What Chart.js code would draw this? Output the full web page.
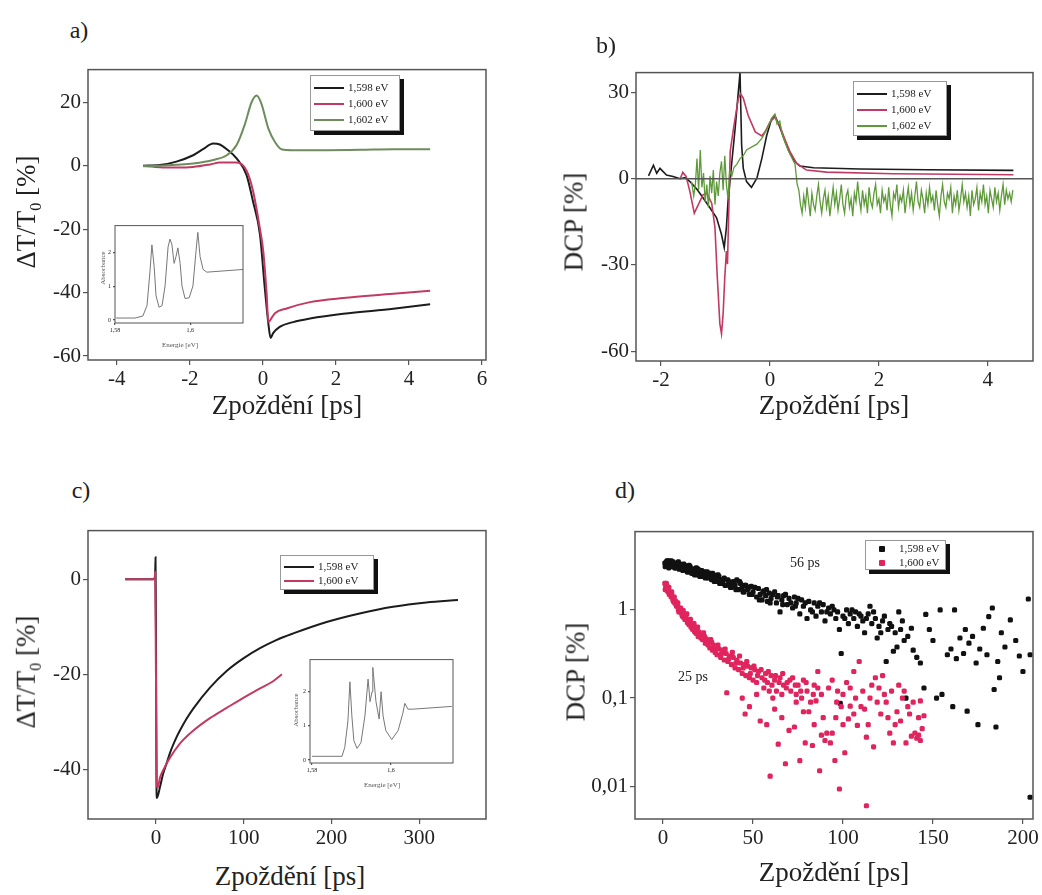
<!DOCTYPE html>
<html lang="cs">
<head>
<meta charset="UTF-8">
<title>Zpoždění - DCP</title>
<script src="https://cdn.jsdelivr.net/npm/chart.js"></script>
<style>
  body { margin: 0; background: #fff; font-family: 'Liberation Serif', 'Times New Roman', serif; color: #222; }
  #page { position: relative; width: 1042px; height: 895px; overflow: hidden; background: #fff; }
  canvas { position: absolute; }
  .txt { position: absolute; transform: translate(-50%, -50%); white-space: nowrap; }
  .ytitle { transform: translate(-50%, -50%) rotate(-90deg); }
  .title { font-size: 27px; }
  .tag { font-size: 24px; }
  .small { font-size: 7px; color: #555; }
  .note { font-size: 14px; }
  .legend { position: absolute; background: #fff; border: 1px solid #999; box-shadow: 4px 4px 0 #111; font-size: 11px; }
  .legend .row { position: absolute; left: 3px; height: 14px; line-height: 14px; white-space: nowrap; }
  .legend .ln { display: inline-block; width: 30px; height: 0; border-top: 2px solid; vertical-align: middle; margin-right: 4px; }
  .legend .pt { display: inline-block; width: 6px; height: 6px; border-radius: 1px; vertical-align: middle; margin: 0 14px 0 10px; }
</style>
</head>
<body>
<div id="page">
  <canvas id="chartA"></canvas>
  <canvas id="chartB"></canvas>
  <canvas id="chartC"></canvas>
  <canvas id="chartD"></canvas>
  <canvas id="insetA"></canvas>
  <canvas id="insetC"></canvas>

  <div class="txt tag" style="left:79px;top:30px">a)</div>
  <div class="txt tag" style="left:606px;top:45px">b)</div>
  <div class="txt tag" style="left:81px;top:490px">c)</div>
  <div class="txt tag" style="left:625px;top:490px">d)</div>

  <div class="txt title ytitle" style="left:28px;top:212px">ΔT/T<sub style="font-size:16px">0</sub> [%]</div>
  <div class="txt title" style="left:287px;top:405px">Zpoždění [ps]</div>
  <div class="txt title ytitle" style="left:574px;top:222px">DCP [%]</div>
  <div class="txt title" style="left:834px;top:405px">Zpoždění [ps]</div>
  <div class="txt title ytitle" style="left:28px;top:672px">ΔT/T<sub style="font-size:16px">0</sub> [%]</div>
  <div class="txt title" style="left:290px;top:876px">Zpoždění [ps]</div>
  <div class="txt title ytitle" style="left:576px;top:672px">DCP [%]</div>
  <div class="txt title" style="left:834px;top:872px">Zpoždění [ps]</div>

  <div class="txt small ytitle" style="left:103px;top:268px">Absorbance</div>
  <div class="txt small" style="left:180px;top:345px">Energie [eV]</div>
  <div class="txt small ytitle" style="left:296px;top:710px">Absorbance</div>
  <div class="txt small" style="left:382px;top:785px">Energie [eV]</div>

  <div class="txt note" style="left:805px;top:563px">56 ps</div>
  <div class="txt note" style="left:693px;top:677px">25 ps</div>

  <div class="legend" style="left:310px;top:75px;width:88px;height:54px">
    <div class="row" style="top:4px"><span class="ln" style="border-color:#1c1c1c"></span>1,598 eV</div>
    <div class="row" style="top:20px"><span class="ln" style="border-color:#c23a62"></span>1,600 eV</div>
    <div class="row" style="top:36px"><span class="ln" style="border-color:#6f8c5e"></span>1,602 eV</div>
  </div>
  <div class="legend" style="left:853px;top:81px;width:92px;height:53px">
    <div class="row" style="top:4px"><span class="ln" style="border-color:#1c1c1c"></span>1,598 eV</div>
    <div class="row" style="top:20px"><span class="ln" style="border-color:#c23a62"></span>1,600 eV</div>
    <div class="row" style="top:36px"><span class="ln" style="border-color:#5f9a3a"></span>1,602 eV</div>
  </div>
  <div class="legend" style="left:280px;top:555px;width:92px;height:33px">
    <div class="row" style="top:3px"><span class="ln" style="border-color:#1c1c1c"></span>1,598 eV</div>
    <div class="row" style="top:17px"><span class="ln" style="border-color:#c23a62"></span>1,600 eV</div>
  </div>
  <div class="legend" style="left:865px;top:540px;width:79px;height:28px">
    <div class="row" style="top:0px"><span class="pt" style="background:#111"></span>1,598 eV</div>
    <div class="row" style="top:14px"><span class="pt" style="background:#e0245e"></span>1,600 eV</div>
  </div>
</div>

<script>
  // ---- data: panel a (ΔT/T0 vs delay) ----
  const aBlackX = [-3.28, -2.82, -2.37, -1.91, -1.64, -1.36, -1.18, -0.99, -0.72, -0.45, -0.27, -0.08, 0.05, 0.15, 0.21, 0.28, 0.46, 0.83, 1.29, 2.2, 3.57, 4.58];
  const aBlack = [0, 0.2, 1.3, 3.3, 5.2, 7.0, 6.7, 5.2, 2.3, -2.9, -11.3, -21.7, -38.3, -49.8, -54.3, -52.8, -50.8, -49.3, -48.2, -46.7, -45.1, -43.7];
  const aRedX = [-3.28, -2.82, -2.37, -1.91, -1.45, -1.18, -0.72, -0.45, -0.27, -0.08, 0.01, 0.10, 0.15, 0.21, 0.33, 0.65, 1.29, 2.2, 3.57, 4.58];
  const aRed = [0, -0.5, -0.6, -0.4, 0.4, 1.0, 1.0, -1.5, -8, -20, -27, -40, -49.3, -48.5, -46.5, -45, -43, -41.7, -40.4, -39.4];
  const aGreenX = [-3.28, -2.82, -2.37, -1.91, -1.36, -0.99, -0.72, -0.49, -0.31, -0.17, -0.04, 0.15, 0.33, 0.51, 0.83, 1.75, 2.66, 3.57, 4.58];
  const aGreen = [-0.2, 0, 0.3, 0.7, 1.8, 3.3, 6.5, 13.2, 20, 22.1, 19.5, 11.7, 7.5, 5.2, 4.9, 4.9, 5.0, 5.2, 5.2];
  const aXTicks = [-4, -2, 0, 2, 4, 6];
  const aYTicks = [-60, -40, -20, 0, 20];

  // inset a: absorbance spectrum
  const insAX = [1.5803, 1.5853, 1.5874, 1.5885, 1.5893, 1.5898, 1.5904, 1.5909, 1.5917, 1.5925, 1.5933, 1.5941, 1.5946, 1.5951, 1.5957, 1.5962, 1.5967, 1.5973, 1.5978, 1.5986, 1.5997, 1.6007, 1.6015, 1.6020, 1.6026, 1.6034, 1.6044, 1.614];
  const insAY = [0.06, 0.06, 0.12, 0.43, 1.45, 2.23, 1.59, 0.72, 0.38, 0.43, 1.01, 2.17, 2.4, 2.25, 1.68, 1.88, 2.14, 1.68, 1.01, 0.64, 0.66, 1.01, 2.02, 2.6, 1.88, 1.5, 1.42, 1.5];

  // ---- data: panel b (DCP vs delay) ----
  const bBlackX = [-2.23, -2.14, -2.08, -2.02, -1.90, -1.78, -1.65, -1.56, -1.47, -1.34, -1.23, -1.10, -0.98, -0.89, -0.84, -0.80, -0.77, -0.70, -0.64, -0.55, -0.52, -0.49, -0.43, -0.34, -0.24, -0.15, -0.06, 0.03, 0.09, 0.18, 0.28, 0.37, 0.46, 0.55, 0.80, 1.65, 2.88, 4.47];
  const bBlack = [1.0, 4.7, 1.9, 3.6, 1.3, 0.8, 0, 0.4, -1, -3.7, -6.6, -10.2, -13.6, -19.4, -24, -17, -7.9, 5.9, 17.4, 36.9, 11.6, 3.6, -1, -3, 0.2, 7, 15, 20.8, 22, 18, 12.8, 8.7, 5.9, 4.4, 3.8, 3.4, 3.1, 2.9];
  const bRedX = [-1.65, -1.60, -1.54, -1.47, -1.39, -1.32, -1.23, -1.16, -1.07, -1.01, -0.97, -0.92, -0.89, -0.86, -0.83, -0.80, -0.78, -0.73, -0.67, -0.58, -0.54, -0.49, -0.40, -0.27, -0.15, -0.09, 0.00, 0.09, 0.18, 0.28, 0.37, 0.49, 0.67, 1.04, 2.26, 4.47];
  const bRed = [0, 2.2, 0.8, -4.5, -12, -9.2, -5.6, -5.1, -8.5, -17, -33.2, -50.5, -53.9, -47, -34.4, -25.2, -29.7, 9.5, 17.4, 28, 29.5, 28, 22, 16.3, 14.9, 16.3, 19.7, 21.4, 18.5, 13.4, 9.3, 5.3, 3.0, 2.3, 1.7, 1.4];
  const bGreenX = [
    -1.44, -1.40, -1.37, -1.34, -1.31, -1.28, -1.25, -1.22, -1.19, -1.16,
    -1.13, -1.10, -1.07, -1.04, -1.01, -0.98, -0.95, -0.92, -0.89, -0.86,
    -0.83, -0.80, -0.77, -0.74, -0.70, -0.66, -0.61, -0.55, -0.49, -0.43,
    -0.34, -0.24, -0.15, -0.06, 0.03, 0.09, 0.13, 0.18, 0.23, 0.28,
    0.33, 0.37, 0.42, 0.46, 0.50,
    0.53, 0.56, 0.59, 0.62, 0.65, 0.68, 0.71, 0.74, 0.77, 0.80,
    0.83, 0.86, 0.89, 0.92, 0.95, 0.98, 1.01, 1.04, 1.07, 1.10,
    1.13, 1.16, 1.19, 1.22, 1.25, 1.28, 1.31, 1.34, 1.37, 1.40,
    1.43, 1.46, 1.49, 1.52, 1.55, 1.58, 1.61, 1.64, 1.67, 1.70,
    1.73, 1.76, 1.79, 1.82, 1.85, 1.88, 1.91, 1.94, 1.97, 2.00,
    2.03, 2.06, 2.09, 2.12, 2.15, 2.18, 2.21, 2.24, 2.27, 2.30,
    2.33, 2.36, 2.39, 2.42, 2.45, 2.48, 2.51, 2.54, 2.57, 2.60,
    2.63, 2.66, 2.69, 2.72, 2.75, 2.78, 2.81, 2.84, 2.87, 2.90,
    2.93, 2.96, 2.99, 3.02, 3.05, 3.08, 3.11, 3.14, 3.17, 3.20,
    3.23, 3.26, 3.29, 3.32, 3.35, 3.38, 3.41, 3.44, 3.47, 3.50,
    3.53, 3.56, 3.59, 3.62, 3.65, 3.68, 3.71, 3.74, 3.77, 3.80,
    3.83, 3.86, 3.89, 3.92, 3.95, 3.98, 4.01, 4.04, 4.07, 4.10,
    4.13, 4.16, 4.19, 4.22, 4.25, 4.28, 4.31, 4.34, 4.37, 4.40,
    4.43, 4.46
  ];
  const bGreen = [
    -1, -6, -2, 7, -4, 10, -3, 2, -8, -2,
    -10, 1, -5, 3, -9, -1, -6, 2, 6, -4,
    8, -2, -7, 3, 1, 4, 5, 7, 8, 10,
    11, 12, 14, 17, 21, 22.5, 19, 20, 15, 12.5,
    10, 8.5, 6.5, 5, -2,
    -4, -9, -12, -6, -10, -3, -8, -13, -5, -9,
    -11, -6, -2, -8, -12, -7, -4, -10, -6, -13,
    -8, -3, -9, -5, -11, -7, -2, -9, -12, -6,
    -4, -10, -7, -13, -5, -8, -1, -7, -11, -4,
    -9, -6, -12, -3, -8, -10, -5, -2, -9, -7,
    -12, -4, -8, -6, -11, -3, -9, -13, -5, -7,
    -2, -10, -6, -8, -4, -12, -7, -3, -9, -5,
    -11, -6, -1, -8, -10, -4, -7, -12, -5, -9,
    -3, -8, -6, -11, -4, -9, -13, -6, -2, -8,
    -10, -5, -7, -3, -12, -6, -9, -4, -11, -7,
    -2, -8, -5, -10, -6, -13, -4, -9, -7, -3,
    -11, -5, -8, -2, -9, -6, -12, -4, -7, -10,
    -3, -8, -5, -11, -6, -2, -9, -4, -7, -5,
    -8, -4
  ];
  const bZeroX = [-2.46, 4.83];
  const bZero = [0, 0];
  const bXTicks = [-2, 0, 2, 4];
  const bYTicks = [-60, -30, 0, 30];

  // ---- data: panel c (ΔT/T0, long delay) ----
  const cBlackX = [-35, -3, -1, -0.5, 0, 0.5, 1, 4.6, 8, 12.5, 16, 24, 27.3, 35, 42.5, 61.5, 80.5, 100, 118.5, 137, 156.4, 194.4, 232, 270, 308, 344];
  const cBlack = [0, 0, 0.5, 4.6, -10, -40, -46, -43.7, -41, -38.5, -36.5, -33, -31.8, -29.3, -27.2, -22.8, -19.3, -16.6, -14.5, -12.8, -11.4, -9.0, -7.2, -5.8, -4.9, -4.4];
  const cRedX = [-35, -3, -1.5, -1, 0, 1, 2, 4.6, 10, 16, 27, 42, 61.5, 81, 99, 118, 133, 143.5];
  const cRed = [0, 0, 0, 1.5, -20, -43.5, -43.8, -41.7, -39.5, -37.5, -34.6, -31.9, -29.2, -27, -25, -23, -21.5, -20];
  const cXTicks = [0, 100, 200, 300];
  const cYTicks = [-40, -20, 0];

  // inset c
  const insCX = [1.5800, 1.5876, 1.5883, 1.5891, 1.5896, 1.5901, 1.5906, 1.5914, 1.5924, 1.5934, 1.5942, 1.5947, 1.5952, 1.5954, 1.5962, 1.5970, 1.5975, 1.5980, 1.5987, 1.6002, 1.6018, 1.6030, 1.6035, 1.6043, 1.6056, 1.6154];
  const insCY = [0.11, 0.11, 0.37, 1.14, 2.29, 1.29, 0.57, 0.34, 0.51, 1.29, 2.37, 1.71, 2.0, 2.71, 1.71, 1.2, 2.0, 1.29, 0.86, 0.6, 0.86, 1.37, 1.66, 1.49, 1.49, 1.57];

  // ---- data: panel d (DCP decay, log) ----
  const dBlackX = [
    1, 1.5, 2, 2.5, 3, 3.5, 4, 5, 5.5, 6,
    7, 7.5, 8, 9, 9.5, 10, 11, 12, 12.5, 13,
    14, 15, 15.5, 16, 17, 18, 18.5, 19, 20, 21,
    22, 23, 24, 25, 26, 27, 28, 29, 30, 31,
    32, 33, 34, 35, 36, 37, 38, 39, 40, 41,
    42, 43, 44, 45, 46, 47, 48, 49, 50, 52,
    53, 54, 55, 56, 57, 58, 59, 60, 62, 63,
    64, 65, 66, 68, 69, 70, 72, 73, 74, 76,
    77, 78, 80, 81, 82, 84, 85, 86, 88, 89,
    90, 92, 93, 94, 96, 97, 98, 99, 100, 102,
    103, 104, 106, 107, 108, 110, 111, 112, 114, 115,
    116, 118, 119, 120, 122, 124, 125, 126, 128, 129,
    130, 131, 132, 134, 135, 136, 138, 139, 141, 143,
    145, 146, 148, 150, 152, 154, 155, 158, 160, 161,
    162, 163, 165, 167, 168, 169, 170, 172, 174, 175,
    176, 178, 180, 181, 183, 184, 185, 186, 187, 188,
    190, 193, 196, 198, 200, 203, 204, 204, 98.5
  ];
  const dBlack = [
    3.4, 3.2, 3.5, 3.3, 3.6, 3.2, 3.4, 3.1, 3.5, 3.3,
    3.0, 3.4, 3.2, 2.9, 3.3, 3.1, 2.8, 3.2, 2.9, 3.0,
    2.7, 3.1, 2.8, 2.6, 2.9, 2.7, 3.0, 2.5, 2.8, 2.6,
    2.4, 2.7, 2.5, 2.3, 2.6, 2.2, 2.5, 2.3, 2.1, 2.4,
    2.2, 2.0, 2.3, 1.9, 2.2, 2.0, 1.8, 2.1, 1.9, 2.2,
    1.7, 2.0, 1.8, 1.6, 1.9, 1.7, 1.5, 1.85, 1.6, 1.4,
    1.75, 1.5, 1.3, 1.65, 1.45, 1.25, 1.55, 1.35, 1.6, 1.2,
    1.45, 0.95, 1.3, 1.5, 1.15, 1.35, 1.05, 1.4, 1.2, 0.9,
    1.3, 1.1, 0.8, 1.25, 1.0, 1.2, 0.85, 1.1, 0.95, 1.15,
    0.75, 1.05, 0.9, 1.1, 0.8, 0.95, 0.6, 0.32, 0.85, 1.0,
    0.7, 0.9, 0.8, 0.95, 0.65, 0.85, 0.75, 0.55, 0.9, 1.1,
    0.7, 0.8, 0.48, 0.65, 0.75, 0.26, 0.6, 0.7, 0.34, 0.55,
    0.38, 0.95, 0.6, 0.45, 0.1, 0.5, 0.62, 0.35, 0.29, 0.25,
    0.13, 0.89, 0.6, 0.45, 0.1, 1.0, 0.11, 0.31, 0.36, 0.08,
    1.0, 0.28, 0.48, 0.32, 0.6, 0.071, 0.42, 0.5, 0.25, 0.05,
    0.36, 0.62, 0.31, 0.84, 1.05, 0.125, 0.047, 0.26, 0.17, 0.55,
    0.38, 0.77, 0.45, 0.3, 0.2, 1.33, 0.0075, 0.31, 0.087
  ];
  const dBlackX2 = [
    1.2, 2.2, 3.2, 4.5, 6.5, 8.5, 10.5, 11.5, 13.5, 14.5,
    16.5, 17.5, 19.5, 20.5, 21.5, 22.5, 23.5, 24.5, 26.5, 27.5,
    28.5, 30.5, 31.5, 33.5, 34.5, 36.5, 37.5, 39.5, 40.5, 42.5,
    44.5, 45.5, 47.5, 49.5, 51, 53.5, 55.5, 57.5, 59.5, 61,
    63.5, 66.5, 67, 71, 73.5, 75, 79, 83, 87, 91,
    95, 101, 105, 109, 113, 117, 121, 123, 127, 133
  ];
  const dBlack2 = [
    3.1, 3.6, 3.0, 3.6, 3.0, 3.5, 2.9, 3.3, 2.7, 3.2,
    2.9, 2.5, 2.9, 2.4, 2.8, 2.6, 2.3, 2.7, 2.3, 2.6,
    2.1, 2.5, 2.0, 2.2, 1.9, 2.1, 1.8, 2.0, 1.7, 2.1,
    1.6, 1.9, 1.8, 1.5, 1.8, 1.3, 1.6, 1.7, 1.2, 1.5,
    1.4, 1.15, 1.45, 1.2, 1.1, 1.35, 1.2, 0.95, 1.2, 0.95,
    1.0, 0.8, 1.0, 0.9, 0.8, 0.95, 0.55, 0.85, 0.65, 0.75
  ];
  const dRedX = [
    1, 1.5, 2, 2.5, 3, 3.5, 4, 4.5, 5, 5.5,
    6, 6.5, 7, 7.5, 8, 8.5, 9, 9.5, 10, 10.5,
    11, 11.5, 12, 12.5, 13, 13.5, 14, 14.5, 15, 15.5,
    16, 16.5, 17, 17.5, 18, 18.5, 19, 19.5, 20, 21,
    21.5, 22, 23, 23.5, 24, 25, 25.5, 26, 27, 27.5,
    28, 29, 29.5, 30, 31, 32, 33, 34, 35, 35.4,
    36, 37, 38, 39, 40, 41, 42, 43, 44, 45,
    45.6, 46, 47, 48, 49, 50, 51, 52, 53, 54,
    55, 56, 57, 57.6, 58, 59, 59.5, 60, 61, 62,
    63, 64, 65, 66, 67, 68, 69, 70, 71, 72,
    73, 74, 75, 76, 77, 78, 79, 80, 82, 83,
    84, 85, 86, 87, 88, 90, 91, 92, 93, 94,
    95.5, 96, 97, 98, 99, 100, 102, 104, 104, 106,
    106, 108, 109, 110, 111, 113, 113, 115, 116, 118,
    120, 121, 122, 124, 126, 127, 128, 130, 131, 132,
    134, 135, 136, 137, 138, 140, 141, 142, 143, 143,
    144, 145
  ];
  const dRed = [
    2.0, 1.8, 1.9, 1.65, 1.7, 1.5, 1.55, 1.4, 1.45, 1.3,
    1.35, 1.2, 1.25, 1.1, 1.15, 1.0, 1.05, 0.95, 0.98, 0.88,
    0.92, 0.82, 0.86, 0.78, 0.8, 0.72, 0.76, 0.68, 0.72, 0.64,
    0.68, 0.6, 0.65, 0.57, 0.62, 0.54, 0.58, 0.5, 0.56, 0.48,
    0.53, 0.46, 0.5, 0.42, 0.47, 0.4, 0.45, 0.37, 0.43, 0.35,
    0.4, 0.33, 0.38, 0.31, 0.36, 0.29, 0.35, 0.27, 0.32, 0.115,
    0.26, 0.3, 0.24, 0.29, 0.22, 0.27, 0.21, 0.25, 0.19, 0.24,
    0.066, 0.18, 0.23, 0.17, 0.22, 0.16, 0.21, 0.15, 0.2, 0.055,
    0.17, 0.13, 0.19, 0.05, 0.15, 0.12, 0.013, 0.18, 0.1, 0.16,
    0.12, 0.03, 0.17, 0.11, 0.14, 0.018, 0.15, 0.043, 0.12, 0.17,
    0.047, 0.11, 0.14, 0.0195, 0.1, 0.16, 0.031, 0.12, 0.09, 0.029,
    0.14, 0.093, 0.2, 0.015, 0.11, 0.033, 0.04, 0.13, 0.031, 0.16,
    0.0196, 0.06, 0.12, 0.0093, 0.08, 0.11, 0.15, 0.081, 0.13, 0.066,
    0.2, 0.049, 0.26, 0.08, 0.12, 0.006, 0.036, 0.1, 0.14, 0.17,
    0.13, 0.066, 0.18, 0.09, 0.04, 0.12, 0.031, 0.07, 0.14, 0.055,
    0.12, 0.031, 0.08, 0.066, 0.037, 0.04, 0.035, 0.038, 0.093, 0.033,
    0.045, 0.063
  ];
  const dRedX2 = [
    1.2, 1.8, 2.8, 3.2, 4.2, 4.8, 5.8, 6.2, 7.2, 8.2,
    8.8, 9.8, 10.8, 11.2, 12.2, 13.2, 14.2, 15.2, 16.2, 17.2,
    18.2, 19.2, 20.5, 22.5, 24.5, 26.5, 28.5, 30.5, 32.5, 34.5,
    36.5, 38.5, 40.5, 42.5, 44.5, 46.5, 48.5, 50.5, 52.5, 54.5,
    56.5, 58.5, 60.5, 62.5, 64.5, 66.5, 68.5, 70.5, 73.5, 76.5,
    79.5, 81, 83.5, 86, 89, 96.5, 101, 103, 107, 112,
    114, 117, 119, 123, 125, 129, 133, 139, 142, 44,
    48, 52, 62, 66, 74, 78, 84, 88, 94, 100
  ];
  const dRed2 = [
    1.7, 2.0, 1.6, 1.8, 1.5, 1.6, 1.25, 1.4, 1.15, 1.2,
    0.95, 1.05, 0.85, 0.98, 0.78, 0.9, 0.7, 0.78, 0.62, 0.7,
    0.55, 0.64, 0.52, 0.55, 0.42, 0.46, 0.36, 0.4, 0.32, 0.36,
    0.28, 0.33, 0.25, 0.3, 0.22, 0.26, 0.19, 0.23, 0.18, 0.21,
    0.16, 0.2, 0.14, 0.18, 0.15, 0.19, 0.13, 0.16, 0.14, 0.12,
    0.15, 0.07, 0.11, 0.13, 0.06, 0.09, 0.024, 0.058, 0.1, 0.075,
    0.05, 0.028, 0.09, 0.11, 0.06, 0.05, 0.1, 0.09, 0.06, 0.1,
    0.08, 0.11, 0.075, 0.06, 0.09, 0.07, 0.05, 0.038, 0.04, 0.05
  ];
  const dXTicks = [0, 50, 100, 150, 200];
  const dYTicks = [0.01, 0.1, 1];

  // ---- styling ----
  const FRAME = '#555';
  const INK = '#222';
  Chart.defaults.font.family = "'Liberation Serif', 'Times New Roman', serif";
  Chart.defaults.color = INK;

  Chart.register({
    id: 'frame',
    defaults: { color: FRAME, width: 1.5 },
    afterDatasetsDraw(chart, args, opts) {
      const a = chart.chartArea, ctx = chart.ctx;
      ctx.save();
      ctx.strokeStyle = opts.color;
      ctx.lineWidth = opts.width;
      ctx.strokeRect(a.left, a.top, a.right - a.left, a.bottom - a.top);
      ctx.restore();
    }
  });

  const fmt = v => String(v).replace('.', ',');

  function axis(min, max, ticks, size, tickLen, extra) {
    return Object.assign({
      type: 'linear', min, max,
      border: { display: false },
      grid: { display: true, drawOnChartArea: false, drawTicks: true, tickLength: tickLen, color: FRAME, lineWidth: 1.2 },
      ticks: { font: { size }, color: INK, padding: 2, maxRotation: 0, autoSkip: false, callback: v => fmt(v) },
      afterBuildTicks: s => { s.ticks = ticks.map(v => ({ value: v })); }
    }, extra || {});
  }

  const pts = (xs, ys) => xs.map((x, i) => ({ x, y: ys[i] }));

  function line(xs, ys, color, width, smooth) {
    return {
      data: pts(xs, ys), borderColor: color, borderWidth: width, pointRadius: 0, fill: false,
      tension: 0, cubicInterpolationMode: smooth ? 'monotone' : 'default'
    };
  }

  function dots(xs, ys, color) {
    return { data: pts(xs, ys), backgroundColor: color, borderWidth: 0, pointStyle: 'rectRounded', pointRadius: 3 };
  }

  // frame = plot area in page pixels; pad = room for axes around it
  function makeChart(id, type, frame, pad, x, y, datasets, frameWidth) {
    const cv = document.getElementById(id);
    const w = frame.R - frame.L + pad.left + pad.right;
    const h = frame.B - frame.T + pad.top + pad.bottom;
    cv.width = w; cv.height = h;
    cv.style.width = w + 'px'; cv.style.height = h + 'px';
    cv.style.left = (frame.L - pad.left) + 'px';
    cv.style.top = (frame.T - pad.top) + 'px';
    x.afterFit = s => { s.height = pad.bottom; };
    y.afterFit = s => { s.width = pad.left; };
    return new Chart(cv, {
      type,
      data: { datasets },
      options: {
        responsive: false, animation: false, events: [],
        layout: { padding: { left: 0, top: pad.top, right: pad.right, bottom: 0 } },
        plugins: { legend: { display: false }, tooltip: { enabled: false }, frame: { width: frameWidth || 1.5 } },
        scales: { x, y }
      }
    });
  }

  const PAD = { left: 70, top: 12, right: 28, bottom: 40 };
  const TICK = 21;

  // a)
  makeChart('chartA', 'line', { L: 88, T: 67, R: 486, B: 360 }, PAD,
    axis(-4.79, 6.11, aXTicks, TICK, 5),
    axis(-61.25, 30.3, aYTicks, TICK, 5),
    [
      line(aGreenX, aGreen, '#6f8c5e', 2, true),
      line(aRedX, aRed, '#c23a62', 2, true),
      line(aBlackX, aBlack, '#1c1c1c', 2, true)
    ]);

  // b)
  makeChart('chartB', 'line', { L: 636, T: 70, R: 1033, B: 361 }, PAD,
    axis(-2.46, 4.83, bXTicks, TICK, 5),
    axis(-63.4, 36.9, bYTicks, TICK, 5),
    [
      line(bZeroX, bZero, '#555', 1.5, false),
      line(bGreenX, bGreen, '#5f9a3a', 1.3, false),
      line(bRedX, bRed, '#c23a62', 1.6, false),
      line(bBlackX, bBlack, '#1c1c1c', 1.6, false)
    ]);

  // c)
  makeChart('chartC', 'line', { L: 88, T: 528, R: 486, B: 819 }, PAD,
    axis(-77.4, 375.9, cXTicks, TICK, 5),
    axis(-50.4, 10.2, cYTicks, TICK, 5),
    [
      line(cRedX, cRed, '#c23a62', 2, true),
      line(cBlackX, cBlack, '#1c1c1c', 2, true)
    ]);

  // d)
  makeChart('chartD', 'scatter', { L: 635, T: 529, R: 1033, B: 819 }, PAD,
    axis(-15.6, 205.6, dXTicks, TICK, 5),
    axis(0.00425, 7.73, dYTicks, TICK, 5, { type: 'logarithmic' }),
    [
      dots(dRedX, dRed, '#e0245e'),
      dots(dRedX2, dRed2, '#e0245e'),
      dots(dBlackX, dBlack, '#111'),
      dots(dBlackX2, dBlack2, '#111')
    ]);

  // insets
  const INPAD = { left: 14, top: 3, right: 6, bottom: 12 };
  makeChart('insetA', 'line', { L: 115, T: 223, R: 243, B: 323 }, INPAD,
    axis(1.58, 1.614, [1.58, 1.6], 6, 2),
    axis(-0.087, 2.8, [0, 1, 2], 6, 2),
    [line(insAX, insAY, '#777', 1, false)], 1);

  makeChart('insetC', 'line', { L: 310, T: 657, R: 453, B: 763 }, INPAD,
    axis(1.5795, 1.6157, [1.58, 1.6], 6, 2),
    axis(-0.086, 2.94, [0, 1, 2], 6, 2),
    [line(insCX, insCY, '#777', 1, false)], 1);
</script>
</body>
</html>
